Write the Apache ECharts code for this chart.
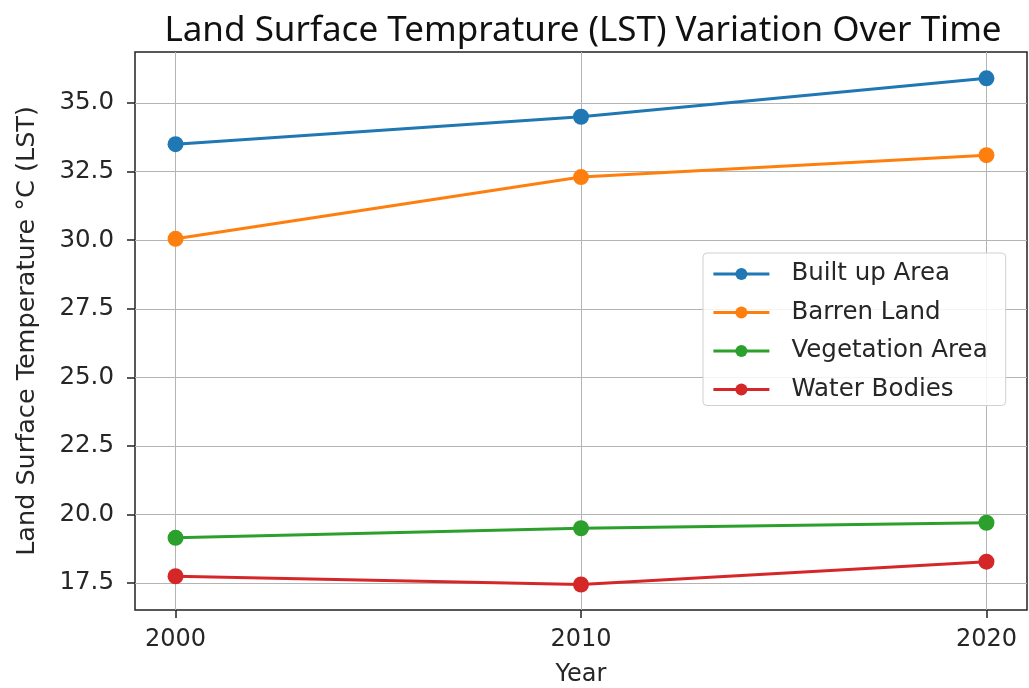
<!DOCTYPE html>
<html>
<head>
<meta charset="utf-8">
<script src="https://cdn.jsdelivr.net/npm/echarts@6/dist/echarts.min.js"></script>
<style>html,body{margin:0;padding:0;background:#fff}#c{width:1029px;height:688px}</style>
</head>
<body>
<div id="c"></div>
<script>
const years = [2000, 2010, 2020];
const builtUp = [33.5, 34.5, 35.9];
const barren = [30.05, 32.3, 33.1];
const vegetation = [19.15, 19.5, 19.7];
const water = [17.75, 17.45, 18.28];
const seriesNames = ['Built up Area', 'Barren Land', 'Vegetation Area', 'Water Bodies'];
const yTicks = [17.5, 20.0, 22.5, 25.0, 27.5, 30.0, 32.5, 35.0];
const xTicks = [2000, 2010, 2020];
const titleText = 'Land Surface Temprature (LST) Variation Over Time';

const colors = ['#1f77b4', '#ff7f0e', '#2ca02c', '#d62728'];
const allData = [builtUp, barren, vegetation, water];

const titleFont = '35px "Noto Sans", sans-serif';
const cv = document.createElement('canvas').getContext('2d');
cv.font = titleFont;
const tw = cv.measureText(titleText).width;

const chart = echarts.init(document.getElementById('c'));
chart.setOption({
  animation: false,
  backgroundColor: '#fff',
  title: {
    text: titleText,
    left: 583 - tw / 2,
    top: 14,
    padding: 0,
    textStyle: {fontFamily: '"Noto Sans", sans-serif', fontSize: 35, fontWeight: 'normal', color: '#111'}
  },
  grid: {left: 135, right: 2, top: 52, bottom: 78, outerBoundsMode: 'none', containLabel: false, show: true, borderColor: '#222', borderWidth: 1.5, backgroundColor: 'transparent'},
  legend: {
    orient: 'vertical', left: 703, top: 253,
    padding: [8, 18, 3, 9],
    itemWidth: 56, itemHeight: 15, itemGap: 12.5,
    backgroundColor: 'rgba(255,255,255,0.85)', borderColor: '#d0d0d0', borderWidth: 1, borderRadius: 4,
    lineStyle: {width: 2.8},
    textStyle: {fontFamily: 'DejaVu Sans', fontSize: 24.5, color: '#262626', lineHeight: 26, padding: [0, 0, 0, 17]},
    data: seriesNames
  },
  xAxis: {
    type: 'value', min: 1999, max: 2021,
    name: 'Year', nameLocation: 'middle', nameGap: 53,
    nameTextStyle: {fontFamily: 'DejaVu Sans', fontSize: 24, color: '#262626'},
    axisLine: {show: false},
    axisTick: {show: true, length: 8, lineStyle: {color: '#222', width: 1.5}, customValues: xTicks},
    axisLabel: {fontFamily: 'DejaVu Sans', fontSize: 24, color: '#262626', margin: 18, customValues: xTicks, formatter: v => String(v)},
    splitLine: {show: true, lineStyle: {color: '#b4b4b4', width: 1}}
  },
  yAxis: {
    type: 'value', min: 16.52, max: 36.86,
    name: 'Land Surface Temperature °C (LST)', nameLocation: 'middle', nameGap: 95,
    nameTextStyle: {fontFamily: 'DejaVu Sans', fontSize: 25.5, color: '#262626'},
    axisLine: {show: false},
    axisTick: {show: true, length: 8, lineStyle: {color: '#222', width: 1.5}, customValues: yTicks},
    axisLabel: {fontFamily: 'DejaVu Sans', fontSize: 24.5, color: '#262626', margin: 21, customValues: yTicks, formatter: v => v.toFixed(1)},
    splitLine: {show: true, lineStyle: {color: '#b4b4b4', width: 1}}
  },
  series: seriesNames.map((n, i) => ({
    name: n, type: 'line',
    data: years.map((y, j) => [y, allData[i][j]]),
    symbol: 'circle', symbolSize: 16,
    lineStyle: {color: colors[i], width: 3},
    itemStyle: {color: colors[i]},
    z: 3
  }))
});
</script>
</body>
</html>
